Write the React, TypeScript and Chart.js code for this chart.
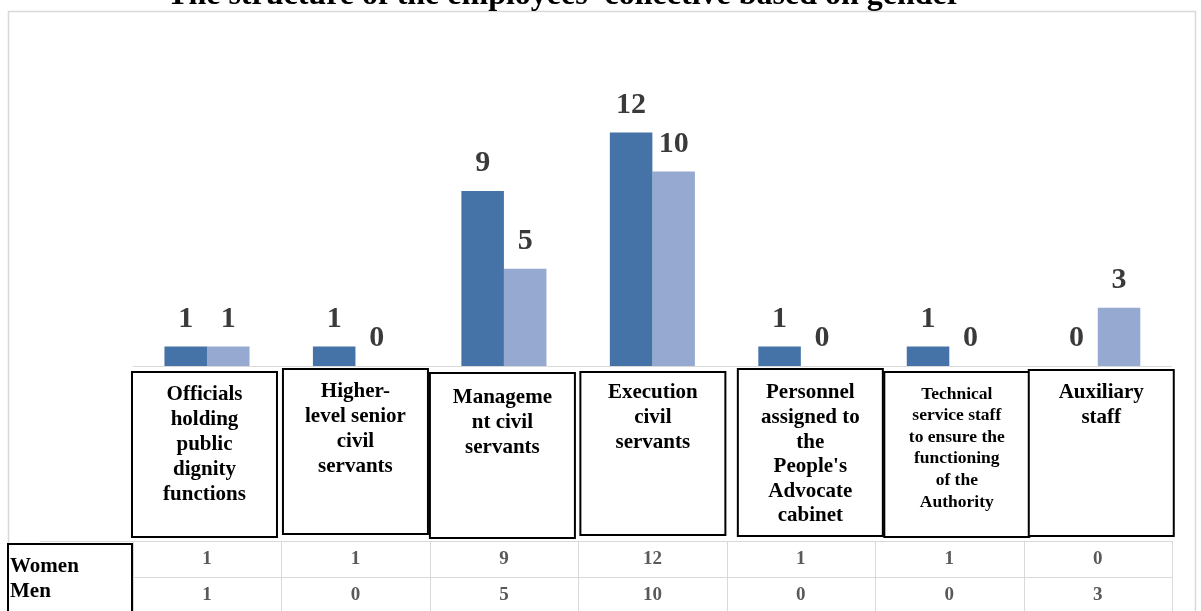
import React, { useEffect, useRef } from "react";
import { Chart, registerables } from "chart.js";

Chart.register(...registerables);

const TITLE = "The structure of the employees' collective based on gender";

const categories: string[][] = [
  ["Officials", "holding", "public", "dignity", "functions"],
  ["Higher-", "level senior", "civil", "servants"],
  ["Manageme", "nt civil", "servants"],
  ["Execution", "civil", "servants"],
  ["Personnel", "assigned to", "the", "People's", "Advocate", "cabinet"],
  ["Technical", "service staff", "to ensure the", "functioning", "of the", "Authority"],
  ["Auxiliary", "staff"],
];

const seriesNames = ["Women", "Men"];
const women = [1, 1, 9, 12, 1, 1, 0];
const men = [1, 0, 5, 10, 0, 0, 3];

const COLORS = ["#4673A7", "#95A9D1"];

// label-box styling (offsets from category centre, tops/bottoms, font size)
const boxDx = [-2.5, 0, -1.5, 0.5, 9.5, 7.5, 3.5];
const boxTop = [372, 369, 373, 372, 369, 372, 370];
const boxBottom = [537, 534, 538, 535, 536, 537, 536];
const boxFont = [21, 21, 21, 21, 21, 17.5, 21];
const boxLine = [25, 25, 25, 25, 24.6, 21.6, 25];
const boxFirst = [23, 23, 25, 21, 24, 22, 23];

const SERIF = "'Liberation Serif', 'Times New Roman', serif";

const overlay = {
  id: "overlay",
  afterDraw(chart: any) {
    const ctx: CanvasRenderingContext2D = chart.ctx;
    const xs = chart.scales.x;
    const area = chart.chartArea;
    const n = categories.length;
    const catW = (area.right - area.left) / n;
    ctx.save();

    // outer frame
    ctx.strokeStyle = "#d9d9d9";
    ctx.lineWidth = 1.5;
    ctx.strokeRect(8.5, 11.5, 1187, 620);

    // title (cut at top)
    ctx.fillStyle = "#000";
    ctx.font = `bold 32px ${SERIF}`;
    ctx.textAlign = "center";
    ctx.textBaseline = "alphabetic";
    ctx.fillText(TITLE, 564, 3.5);

    // axis baseline
    ctx.strokeStyle = "#d9d9d9";
    ctx.lineWidth = 1;
    ctx.beginPath();
    ctx.moveTo(area.left, area.bottom + 0.5);
    ctx.lineTo(area.right, area.bottom + 0.5);
    ctx.stroke();

    // data labels
    ctx.fillStyle = "#3a3a3a";
    ctx.font = `bold 30px ${SERIF}`;
    ctx.textAlign = "center";
    ctx.textBaseline = "alphabetic";
    chart.data.datasets.forEach((ds: any, di: number) => {
      const meta = chart.getDatasetMeta(di);
      meta.data.forEach((bar: any, j: number) => {
        ctx.fillText(String(ds.data[j]), bar.x, bar.y - 20);
      });
    });

    // data table
    const tTop = 541;
    const tMid = 577;
    ctx.strokeStyle = "#d9d9d9";
    ctx.lineWidth = 1;
    ctx.beginPath();
    ctx.moveTo(40, tTop + 0.5);
    ctx.lineTo(area.right, tTop + 0.5);
    ctx.moveTo(area.left, tMid + 0.5);
    ctx.lineTo(area.right, tMid + 0.5);
    for (let k = 0; k <= n; k++) {
      const x = Math.round(area.left + k * catW) + 0.5;
      ctx.moveTo(x, tTop);
      ctx.lineTo(x, 611);
    }
    ctx.stroke();

    ctx.fillStyle = "#595959";
    ctx.font = `bold 19px ${SERIF}`;
    ctx.textAlign = "center";
    ctx.textBaseline = "middle";
    const rows = [women, men];
    rows.forEach((row, r) => {
      row.forEach((v, j) => {
        ctx.fillText(String(v), xs.getPixelForValue(j), r === 0 ? 559 : 595);
      });
    });

    // row label box
    ctx.fillStyle = "#fff";
    ctx.fillRect(7, 543, 125, 80);
    ctx.strokeStyle = "#000";
    ctx.lineWidth = 2;
    ctx.strokeRect(8, 544, 124, 80);
    ctx.fillStyle = "#000";
    ctx.font = `bold 21px ${SERIF}`;
    ctx.textAlign = "left";
    ctx.fillText(seriesNames[0], 10, 567);
    ctx.fillText(seriesNames[1], 10, 592);

    // category label boxes
    categories.forEach((lines, j) => {
      const cx = xs.getPixelForValue(j) + boxDx[j];
      const left = cx - 72.5;
      const top = boxTop[j];
      const h = boxBottom[j] - top;
      ctx.fillStyle = "#fff";
      ctx.fillRect(left, top, 145, h);
      ctx.strokeStyle = "#000";
      ctx.lineWidth = 2;
      ctx.strokeRect(left, top, 145, h);
      ctx.fillStyle = "#000";
      ctx.font = `bold ${boxFont[j]}px ${SERIF}`;
      ctx.textAlign = "center";
      ctx.textBaseline = "middle";
      lines.forEach((ln, k) => {
        ctx.fillText(ln, cx, top + boxFirst[j] + k * boxLine[j]);
      });
    });

    ctx.restore();
  },
};

export default function App() {
  const ref = useRef<HTMLCanvasElement | null>(null);
  useEffect(() => {
    document.body.style.margin = "0";
    const chart = new Chart(ref.current as HTMLCanvasElement, {
      type: "bar",
      data: {
        labels: categories.map((c) => c.join(" ")),
        datasets: [
          { label: seriesNames[0], data: women, backgroundColor: COLORS[0], borderWidth: 0 },
          { label: seriesNames[1], data: men, backgroundColor: COLORS[1], borderWidth: 0 },
        ],
      },
      options: {
        responsive: false,
        animation: false,
        devicePixelRatio: 1,
        layout: { padding: { left: 132.75, right: 29, top: 93.7, bottom: 245 } },
        plugins: { legend: { display: false }, tooltip: { enabled: false }, title: { display: false } },
        datasets: { bar: { categoryPercentage: 0.573, barPercentage: 1 } },
        scales: {
          x: { display: false },
          y: { display: false, min: 0, max: 14 },
        },
      },
      plugins: [overlay],
    });
    return () => chart.destroy();
  }, []);
  return (
    <div style={{ position: "absolute", left: 0, top: 0, width: 1201, height: 611, background: "#fff" }}>
      <canvas ref={ref} width={1201} height={611} style={{ display: "block" }} />
    </div>
  );
}
